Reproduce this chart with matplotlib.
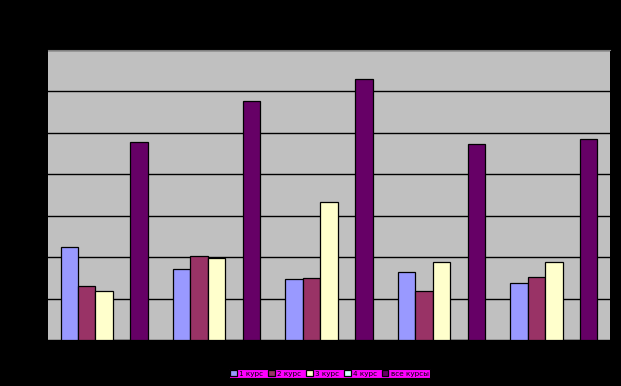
import numpy as np
import matplotlib
matplotlib.use('Agg')
import matplotlib.pyplot as plt

# data (axis labels are black on black, scale 0..7)
groups = ['1', '2', '3', '4', '5']
series_names = ['1 курс', '2 курс', '3 курс', '4 курс', 'все курсы']
kurs1 = [2.24, 1.71, 1.47, 1.63, 1.38]
kurs2 = [1.30, 2.03, 1.50, 1.18, 1.52]
kurs3 = [1.18, 1.98, 3.32, 1.88, 1.88]
kurs4 = [0, 0, 0, 0, 0]
all_kurs = [4.77, 5.76, 6.31, 4.72, 4.84]
yticks = [0, 1, 2, 3, 4, 5, 6, 7]

colors = ['#9999FF', '#993366', '#FFFFCC', '#CCFFFF', '#660066']

fig = plt.figure(figsize=(6.21, 3.86), dpi=100, facecolor='black')
ax = fig.add_axes([48 / 621, 46 / 386, 562 / 621, 290 / 386])
ax.set_facecolor('#C0C0C0')

x = np.arange(len(groups))
w = 0.155
all_series = [kurs1, kurs2, kurs3, kurs4, all_kurs]
for i, vals in enumerate(all_series):
    ax.bar(x + (i - 2) * w, vals, width=w, color=colors[i], edgecolor='black',
           linewidth=0.9, label=series_names[i], zorder=3)

ax.set_xlim(-0.5, len(groups) - 0.5)
ax.set_ylim(0, 7)
ax.set_yticks(yticks)
ax.yaxis.grid(True, color='black', linewidth=1.0, zorder=0)
ax.set_axisbelow(True)
ax.tick_params(colors='black', labelcolor='black', length=0)
ax.set_xticks(x)
ax.set_xticklabels([])
ax.set_yticklabels([])
for side in ['left', 'bottom', 'right']:
    ax.spines[side].set_visible(False)
ax.spines['top'].set_color('#808080')
ax.spines['top'].set_linewidth(0.8)

leg = fig.legend(loc='center', bbox_to_anchor=(329.5 / 621, 12.5 / 386), ncol=5,
                 fontsize=5.2, frameon=True, fancybox=False, framealpha=1,
                 facecolor='#FF00FF', edgecolor='black', handlelength=0.9,
                 handleheight=0.9, handletextpad=0.3, columnspacing=0.7,
                 borderpad=0.2, borderaxespad=0, labelcolor='black')
leg.get_frame().set_linewidth(0.8)

fig.savefig('out.png', dpi=100, facecolor='black')
